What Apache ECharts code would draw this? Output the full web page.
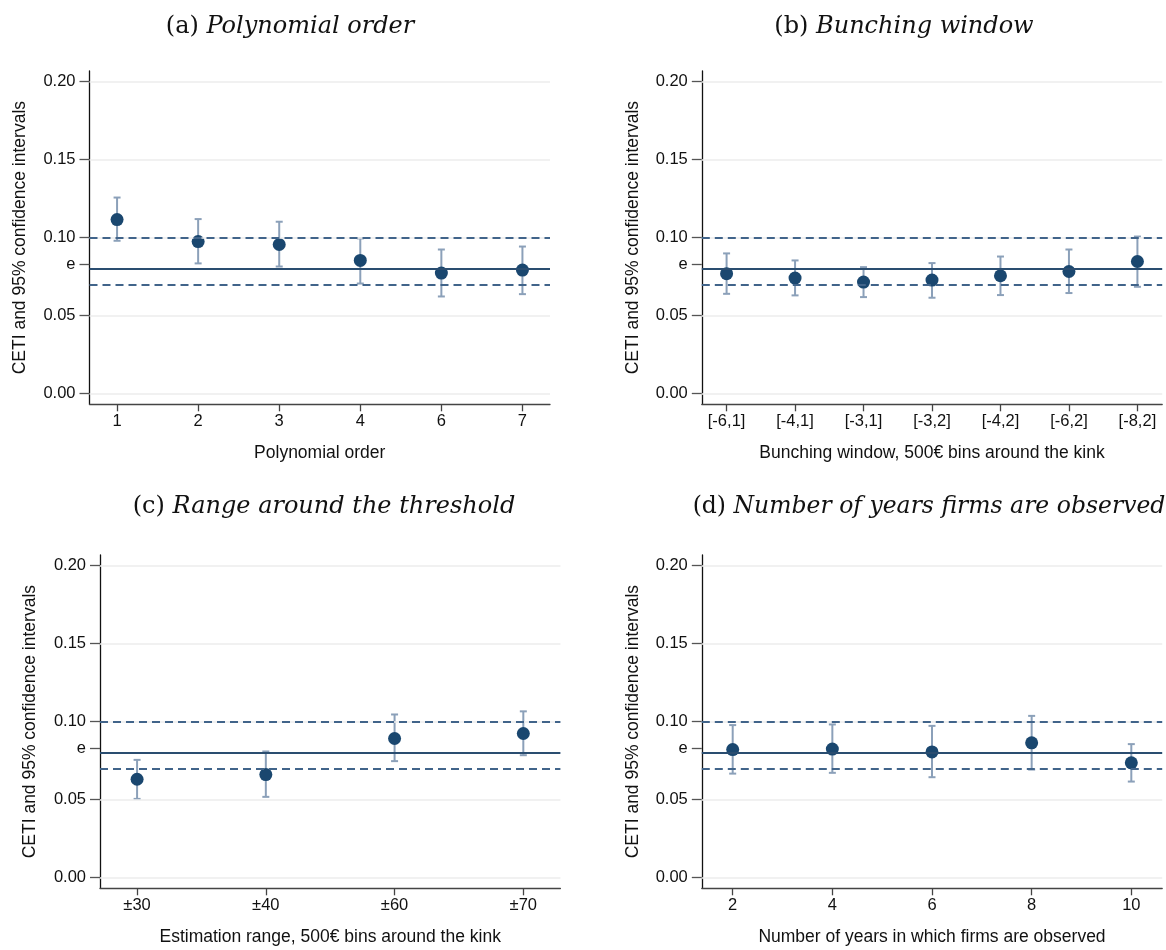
<!DOCTYPE html>
<html>
<head>
<meta charset="utf-8">
<title>CETI robustness checks</title>
<script src="https://cdn.jsdelivr.net/npm/echarts@6/dist/echarts.min.js"></script>
<style>
  html, body { margin: 0; padding: 0; background: #ffffff; }
  #chart { width: 1166px; height: 950px; }
</style>
</head>
<body>
<div id="chart"></div>
<script>
// Reference level e and its 95% band (horizontal lines in every panel)
const eValue = 0.0827;
const eUpper = 0.0982;
const eLower = 0.0672;

// y-axis tick values shared by all panels
const yTicks = [0, 0.05, 0.10, 0.15, 0.20];

// (a) Polynomial order
const polyOrders = ['1', '2', '3', '4', '6', '7'];
const polyEst = [0.1116, 0.0975, 0.0956, 0.0854, 0.0773, 0.0792];
const polyLo  = [0.0980, 0.0835, 0.0815, 0.0706, 0.0623, 0.0638];
const polyHi  = [0.1257, 0.1119, 0.1102, 0.0995, 0.0924, 0.0943];

// (b) Bunching window
const windows   = ['[-6,1]', '[-4,1]', '[-3,1]', '[-3,2]', '[-4,2]', '[-6,2]', '[-8,2]'];
const windowEst = [0.0769, 0.0741, 0.0715, 0.0728, 0.0756, 0.0783, 0.0847];
const windowLo  = [0.0640, 0.0630, 0.0619, 0.0615, 0.0632, 0.0645, 0.0685];
const windowHi  = [0.0899, 0.0854, 0.0811, 0.0837, 0.0879, 0.0924, 0.1007];

// (c) Range around the threshold
const ranges   = ['±30', '±40', '±60', '±70'];
const rangeEst = [0.0631, 0.0661, 0.0892, 0.0924];
const rangeLo  = [0.0505, 0.0518, 0.0747, 0.0785];
const rangeHi  = [0.0755, 0.0809, 0.1046, 0.1066];

// (d) Number of years firms are observed
const years   = [2, 4, 6, 8, 10];
const yearEst = [0.0821, 0.0824, 0.0806, 0.0864, 0.0736];
const yearLo  = [0.0667, 0.0672, 0.0644, 0.0693, 0.0616];
const yearHi  = [0.0978, 0.0982, 0.0973, 0.1037, 0.0856];

const NAVY = '#1a476f';
const CI_COLOR = '#8ba0b9';
const SANS = '"Liberation Sans", Arial, sans-serif';
const SERIF = '"DejaVu Serif", serif';

const panels = [
  { title: '(a) ', titleIt: 'Polynomial order', titleX: 285, titleY: 22, titleSize: 24,
    grid: { left: 89.5, top: 71, width: 460.5, height: 333.3 },
    xName: 'Polynomial order', xMin: -0.34, xMax: 5.34,
    xs: polyOrders.map((_, i) => i), labels: polyOrders,
    est: polyEst, lo: polyLo, hi: polyHi, yGap: 60 },
  { title: '(b) ', titleIt: 'Bunching window', titleX: 899, titleY: 22, titleSize: 24,
    grid: { left: 701.8, top: 71, width: 460.4, height: 333.3 },
    xName: 'Bunching window, 500€ bins around the kink', xMin: -0.362, xMax: 6.362,
    xs: windows.map((_, i) => i), labels: windows,
    est: windowEst, lo: windowLo, hi: windowHi, yGap: 60 },
  { title: '(c) ', titleIt: 'Range around the threshold', titleX: 319, titleY: 502, titleSize: 24,
    grid: { left: 100, top: 555, width: 460.4, height: 333.3 },
    xName: 'Estimation range, 500€ bins around the kink', xMin: -0.288, xMax: 3.288,
    xs: ranges.map((_, i) => i), labels: ranges,
    est: rangeEst, lo: rangeLo, hi: rangeHi, yGap: 61 },
  { title: '(d) ', titleIt: 'Number of years firms are observed', titleX: 924, titleY: 502, titleSize: 23.5,
    grid: { left: 701.8, top: 555, width: 460.4, height: 333.3 },
    xName: 'Number of years in which firms are observed', xMin: 1.38, xMax: 10.62,
    xs: years, labels: null,
    est: yearEst, lo: yearLo, hi: yearHi, yGap: 60 }
];

const yTickValues = [0, 0.05, eValue, 0.10, 0.15, 0.20];

const option = {
  backgroundColor: '#ffffff',
  animation: false,
  title: [], grid: [], xAxis: [], yAxis: [], series: []
};

panels.forEach((p, k) => {
  option.title.push({
    text: '{n|' + p.title + '}{i|' + p.titleIt + '}',
    left: p.titleX, top: p.titleY, textAlign: 'center', textVerticalAlign: 'middle',
    textStyle: {
      fontWeight: 'normal',
      rich: {
        n: { fontFamily: SERIF, fontSize: p.titleSize, fontWeight: 'normal', color: '#111' },
        i: { fontFamily: SERIF, fontSize: p.titleSize, fontWeight: 'normal', fontStyle: 'italic', color: '#111' }
      }
    }
  });
  option.grid.push(Object.assign({ containLabel: false }, p.grid));

  option.xAxis.push({
    type: 'value', gridIndex: k, min: p.xMin, max: p.xMax,
    name: p.xName, nameLocation: 'middle', nameGap: 40,
    nameTextStyle: { fontFamily: SANS, fontSize: 17.5, color: '#111' },
    axisLine: { onZero: false, lineStyle: { color: '#444', width: 1.3 } },
    axisTick: { customValues: p.xs, length: 7, lineStyle: { color: '#444', width: 1.3 } },
    axisLabel: {
      customValues: p.xs, margin: 9, fontFamily: SANS, fontSize: 16.5, color: '#111',
      formatter: v => p.labels ? p.labels[Math.round(v)] : String(v)
    },
    splitLine: { show: false }
  });

  option.yAxis.push({
    type: 'value', gridIndex: k, min: -0.0068, max: 0.2068,
    name: 'CETI and 95% confidence intervals', nameLocation: 'middle', nameGap: p.yGap,
    nameTextStyle: { fontFamily: SANS, fontSize: 17.5, color: '#111' },
    axisLine: { onZero: false, lineStyle: { color: '#111', width: 1.3 } },
    axisTick: { customValues: yTickValues, length: 10, lineStyle: { color: '#555', width: 1.3 } },
    axisLabel: {
      customValues: yTickValues, margin: 14, fontFamily: SANS, fontSize: 16.5, color: '#111',
      formatter: v => Math.abs(v - eValue) < 1e-9 ? 'e' : v.toFixed(2)
    },
    splitLine: { show: false }
  });

  // light horizontal gridlines at the numeric ticks
  option.series.push({
    type: 'line', xAxisIndex: k, yAxisIndex: k, data: [], z: 1, silent: true,
    markLine: {
      silent: true, symbol: 'none', animation: false, label: { show: false },
      lineStyle: { color: '#ececec', width: 1.5, type: 'solid' },
      data: yTicks.map(v => ({ yAxis: v }))
    }
  });

  // e and its band
  option.series.push({
    type: 'line', xAxisIndex: k, yAxisIndex: k, data: [], z: 2, silent: true,
    markLine: {
      silent: true, symbol: 'none', animation: false, label: { show: false },
      data: [
        { yAxis: eValue, lineStyle: { color: '#2a4d70', width: 2, type: 'solid' } },
        { yAxis: eUpper, lineStyle: { color: '#41648a', width: 2, type: [8, 5] } },
        { yAxis: eLower, lineStyle: { color: '#41648a', width: 2, type: [8, 5] } }
      ]
    }
  });

  // 95% confidence intervals with caps
  option.series.push({
    type: 'custom', xAxisIndex: k, yAxisIndex: k, z: 3, silent: true,
    data: p.xs.map((x, i) => [x, p.lo[i], p.hi[i]]),
    encode: { x: 0, y: [1, 2] },
    renderItem: (params, api) => {
      const x = api.value(0);
      const a = api.coord([x, api.value(1)]);
      const b = api.coord([x, api.value(2)]);
      const cap = 3.5;
      const style = { stroke: CI_COLOR, lineWidth: 2 };
      return {
        type: 'group',
        children: [
          { type: 'line', shape: { x1: a[0], y1: a[1], x2: b[0], y2: b[1] }, style },
          { type: 'line', shape: { x1: a[0] - cap, y1: a[1], x2: a[0] + cap, y2: a[1] }, style },
          { type: 'line', shape: { x1: b[0] - cap, y1: b[1], x2: b[0] + cap, y2: b[1] }, style }
        ]
      };
    }
  });

  // point estimates
  option.series.push({
    type: 'scatter', xAxisIndex: k, yAxisIndex: k, z: 4, silent: true,
    symbol: 'circle', symbolSize: 13,
    itemStyle: { color: NAVY, opacity: 1 },
    data: p.xs.map((x, i) => [x, p.est[i]])
  });
});

const chart = echarts.init(document.getElementById('chart'), null, { renderer: 'canvas' });
chart.setOption(option);
</script>
</body>
</html>
